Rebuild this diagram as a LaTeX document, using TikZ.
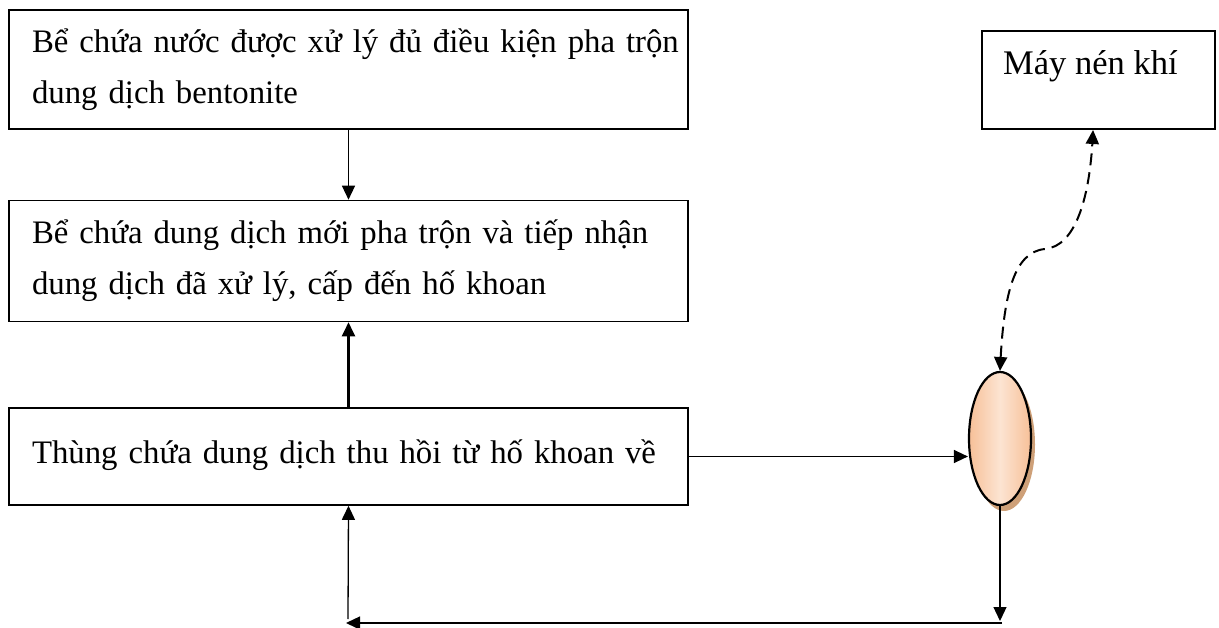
\documentclass[tikz,border=0pt]{standalone}
\usepackage{fontspec}
\setmainfont{Liberation Serif}
\usetikzlibrary{arrows.meta,shapes.geometric,shadows,bending}
\definecolor{peachdark}{RGB}{247,192,152}
\definecolor{peachlight}{RGB}{252,228,210}
\definecolor{shadowtan}{RGB}{206,160,120}
\begin{document}
\begin{tikzpicture}[x=1pt,y=-1pt,
  box/.style={draw,line width=1.6pt,rectangle,minimum width=679pt,text width=633pt,
    inner xsep=23pt,inner ysep=0pt,align=left,font=\fontsize{32.8}{51}\selectfont},
  smallbox/.style={draw,line width=1.6pt,rectangle,minimum width=233pt,minimum height=98pt,
    inner sep=0pt,font=\fontsize{34.5}{51}\selectfont},
  arr/.style={line width=1.3pt,-{Triangle[length=14pt,width=13pt]}},
  thickarr/.style={line width=2.3pt,-{Triangle[length=14pt,width=13pt]}},
  dasharr/.style={line width=2pt,dash pattern=on 12pt off 7pt,
    {Triangle[length=14pt,width=13pt,bend]}-{Triangle[length=14pt,width=13pt,bend]}},
  tank/.style={ellipse,draw,line width=2.2pt,minimum width=62pt,minimum height=133pt,
    inner sep=0pt,left color=peachdark,right color=peachdark,middle color=peachlight,
    drop shadow={shadow xshift=4pt,shadow yshift=-6pt,fill=shadowtan,opacity=1}}
]
\useasboundingbox (0,0) rectangle (1219,628);
\fill[white] (0,0) rectangle (1219,628);

\node[box,minimum height=119pt] (b1) at (348.5,69.5)
  {\mbox{Bể chứa nước được xử lý đủ điều kiện pha trộn}\\\mbox{dung dịch bentonite}};
\node[box,minimum height=121pt] (b2) at (348.5,261)
  {\mbox{Bể chứa dung dịch mới pha trộn và tiếp nhận}\\\mbox{dung dịch đã xử lý, cấp đến hố khoan}};
\node[box,minimum height=97pt,text height=20pt,text depth=7pt] (b3) at (348.5,456.5)
  {\mbox{Thùng chứa dung dịch thu hồi từ hố khoan về}};
\node[smallbox] (b4) at (1098.5,80) {};
\node[anchor=base west,inner sep=0pt,font=\fontsize{34.5}{51}\selectfont] (b4t) at (1003,75) {Máy nén khí};
\node[tank] (ell) at (1000,438.5) {};

\coordinate (b4s) at (1093,130);
\coordinate (d1) at (1000,621);
\coordinate (d2) at (1002,623);
\coordinate (d3) at (346,623);
\coordinate (d4) at (348,619);

\draw[arr] (b1.south) -- (b2.north);
\draw[thickarr] (b3.north) -- (b2.south);
\draw[arr] (b3.east) -- (b3.east -| ell.west);
\draw[arr] (ell.south) -- (d1);
\draw[arr] (d2) -- (d3);
\draw[arr] (d4) -- (b3.south);
\draw[dasharr] (ell.north) .. controls (1003,300) and (1012,252) .. (1045,249)
  .. controls (1078,246) and (1091,190) .. (b4s);
\end{tikzpicture}
\end{document}
